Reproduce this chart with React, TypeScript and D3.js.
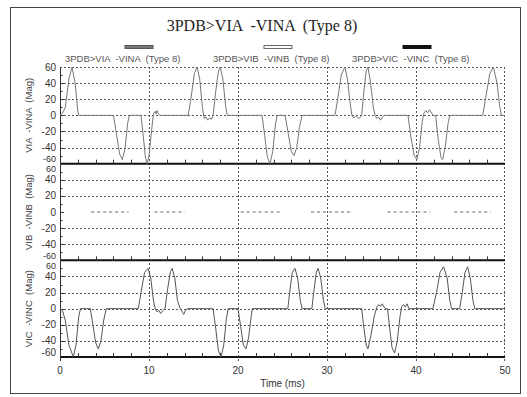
import { useEffect, useRef } from "react";
import * as d3 from "d3";

// Time (ms) / magnitude vertices
const viaVina: [number, number][] = [
  [0, 0], [0.3, 3], [0.6, 10], [1.0, 45], [1.35, 60], [1.7, 40], [2.0, 5], [2.1, 0],
  [6.0, 0], [6.3, -20], [6.7, -48], [7.0, -55], [7.3, -42], [7.6, -10], [7.8, 0],
  [9.1, 0], [9.3, -20], [9.6, -52], [9.8, -60], [10.0, -50], [10.3, -18], [10.5, 2], [10.7, 5], [10.8, 2], [10.9, 6], [11.0, 3], [11.2, 0],
  [14.4, 0], [14.7, 20], [15.1, 52], [15.4, 60], [15.7, 45], [16.0, 10], [16.2, -4], [16.4, -2], [16.6, -6], [16.8, -3], [17.0, -5], [17.2, 0],
  [17.5, 30], [17.8, 55], [18.0, 60], [18.3, 45], [18.6, 12], [18.8, 0],
  [22.7, 0], [23.0, -25], [23.3, -52], [23.6, -60], [23.9, -45], [24.2, -12], [24.4, 0],
  [25.3, 0], [25.6, -20], [26.0, -45], [26.3, -50], [26.6, -40], [26.9, -15], [27.2, 0],
  [30.9, 0], [31.2, 20], [31.6, 50], [32.0, 60], [32.3, 45], [32.6, 15], [32.8, 0], [33.0, -3], [33.3, -1], [33.6, -4], [33.9, 0],
  [34.1, 25], [34.4, 55], [34.6, 60], [34.9, 40], [35.2, 10], [35.4, 0], [35.6, -4], [35.8, -2], [36.0, -6], [36.2, -3], [36.4, 0],
  [39.1, 0], [39.4, -25], [39.8, -50], [40.1, -55], [40.4, -40], [40.7, -8], [40.9, 3], [41.1, 6], [41.3, 3], [41.5, 7], [41.7, 4], [41.9, 0],
  [42.2, 0], [42.5, -30], [42.8, -52], [43.0, -55], [43.3, -38], [43.6, -10], [43.8, 0],
  [47.5, 0], [47.8, 20], [48.3, 52], [48.7, 60], [49.1, 40], [49.4, 12], [49.6, 0], [50, 0],
];

// VINB trace only shows as short flat pieces at 0 (null = gap)
const vibVinb: [number, number | null][] = [
  [3.5, 0], [7.7, 0], [7.8, null],
  [10.6, 0], [14.0, 0], [14.1, null],
  [20.3, 0], [24.8, 0], [24.9, null],
  [28.2, 0], [32.6, 0], [32.7, null],
  [36.8, 0], [41.6, 0], [41.7, null],
  [44.3, 0], [48.4, 0],
];

const vicVinc: [number, number][] = [
  [0, 0], [0.3, -3], [0.6, -15], [1.0, -45], [1.5, -60], [1.8, -45], [2.1, -10], [2.3, 0],
  [3.4, 0], [3.7, -20], [4.0, -42], [4.3, -50], [4.6, -40], [4.9, -15], [5.2, 0],
  [8.8, 0], [9.1, 20], [9.5, 45], [9.9, 50], [10.2, 38], [10.5, 10], [10.7, 0], [10.9, -4], [11.1, -2], [11.3, -6], [11.5, -3], [11.8, 0],
  [12.1, 25], [12.4, 46], [12.6, 50], [12.9, 38], [13.2, 10], [13.5, 0], [13.7, -3], [13.9, -7], [14.1, -2], [14.3, 0],
  [17.2, 0], [17.5, -25], [17.8, -52], [18.1, -60], [18.4, -45], [18.7, -12], [18.9, 0],
  [20.0, 0], [20.3, -22], [20.6, -45], [20.9, -50], [21.2, -35], [21.5, -8], [21.6, 0],
  [25.6, 0], [25.8, 20], [26.1, 45], [26.4, 50], [26.7, 38], [27.0, 10], [27.2, 0],
  [28.3, 0], [28.5, 20], [28.8, 45], [29.0, 50], [29.3, 38], [29.6, 10], [29.8, 0],
  [33.9, 0], [34.1, -20], [34.4, -45], [34.6, -50], [34.9, -35], [35.3, -10], [35.6, 2], [35.8, 5], [36.0, 3], [36.2, 6], [36.4, 2], [36.6, 0],
  [36.8, 0], [37.0, -20], [37.3, -48], [37.6, -55], [37.9, -40], [38.2, -10], [38.4, 3], [38.6, 5], [38.8, 2], [39.0, 6], [39.2, 0],
  [41.9, 0], [42.3, 20], [42.7, 45], [43.1, 52], [43.5, 38], [43.8, 10], [44.0, 0],
  [44.9, 0], [45.2, 20], [45.5, 45], [45.8, 52], [46.1, 38], [46.4, 10], [46.6, 0], [50, 0],
];

const title = "3PDB>VIA  -VINA  (Type 8)";
const legendLabels = ["3PDB>VIA  -VINA  (Type 8)", "3PDB>VIB  -VINB  (Type 8)", "3PDB>VIC  -VINC  (Type 8)"];
const panelLabels = ["VIA  -VINA  (Mag)", "VIB  -VINB  (Mag)", "VIC  -VINC  (Mag)"];
const xTicks = [0, 10, 20, 30, 40, 50];
const yTicks = [60, 40, 20, 0, -20, -40, -60];

const W = 527, H = 397;
const margin = { top: 67, bottom: 40, left: 60, right: 22 };
const sans = "Arial, 'Liberation Sans', sans-serif";

function App() {
  const svgRef = useRef<SVGSVGElement>(null);

  useEffect(() => {
    const svg = d3.select(svgRef.current);
    svg.selectAll("*").remove();

    const plotBottom = H - margin.bottom;
    const panelH = (plotBottom - margin.top) / 3;

    const x = d3.scaleLinear().domain([0, 50]).range([margin.left, W - margin.right]);
    const yScales = [0, 1, 2].map(i =>
      d3.scaleLinear().domain([-60, 60]).range([margin.top + panelH * (i + 1), margin.top + panelH * i])
    );

    // outer frame
    svg.append("rect")
      .attr("x", 10.5).attr("y", 7.5).attr("width", 510).attr("height", 386)
      .attr("fill", "none").attr("stroke", "#444").attr("stroke-width", 1);

    // title
    svg.append("text")
      .attr("x", 262).attr("y", 31)
      .attr("text-anchor", "middle")
      .style("font-family", "'Liberation Serif', 'Times New Roman', serif")
      .style("font-size", "16px").style("white-space", "pre")
      .attr("fill", "#222")
      .text(title);

    // legend
    const legendX = [65, 213, 352];
    const swatchX = [125, 264, 403];
    const swatchStyle = [
      { fill: "#777", stroke: "#555" },
      { fill: "#fff", stroke: "#666" },
      { fill: "#111", stroke: "#111" },
    ];
    legendLabels.forEach((lab, i) => {
      svg.append("rect")
        .attr("x", swatchX[i]).attr("y", 45.5).attr("width", 28).attr("height", 3)
        .attr("fill", swatchStyle[i].fill).attr("stroke", swatchStyle[i].stroke).attr("stroke-width", 1);
      svg.append("text")
        .attr("x", legendX[i]).attr("y", 62)
        .style("font-family", sans).style("font-size", "9.5px").style("white-space", "pre")
        .attr("fill", "#555")
        .text(lab);
    });

    // gridlines (the hollow VINB trace hides the 0 line of the middle panel)
    const grid = svg.append("g").attr("stroke", "#555").attr("stroke-width", 1).attr("stroke-dasharray", "2,2");
    yScales.forEach((y, i) => {
      [40, 20, 0, -20, -40].forEach(v => {
        if (i === 1 && v === 0) return;
        grid.append("line")
          .attr("x1", margin.left).attr("x2", W - margin.right)
          .attr("y1", Math.round(y(v)) + 0.5).attr("y2", Math.round(y(v)) + 0.5);
      });
    });
    [10, 20, 30, 40].forEach(t => {
      grid.append("line")
        .attr("x1", Math.round(x(t)) + 0.5).attr("x2", Math.round(x(t)) + 0.5)
        .attr("y1", margin.top).attr("y2", plotBottom + 4);
    });
    // top and right edges dotted
    grid.append("line").attr("x1", margin.left).attr("x2", W - margin.right)
      .attr("y1", margin.top + 0.5).attr("y2", margin.top + 0.5);
    grid.append("line").attr("x1", W - margin.right - 0.5).attr("x2", W - margin.right - 0.5)
      .attr("y1", margin.top).attr("y2", plotBottom + 4);

    // panel baselines with minor ticks
    yScales.forEach(y => {
      const yb = y(-60);
      svg.append("line")
        .attr("x1", margin.left).attr("x2", W - margin.right)
        .attr("y1", yb).attr("y2", yb)
        .attr("stroke", "#111").attr("stroke-width", 2);
      d3.range(2, 50, 2).forEach(t => {
        if (t % 10 === 0) return;
        svg.append("line")
          .attr("x1", Math.round(x(t)) + 0.5).attr("x2", Math.round(x(t)) + 0.5)
          .attr("y1", yb).attr("y2", yb - 4)
          .attr("stroke", "#333").attr("stroke-width", 1);
      });
    });

    // left axis
    svg.append("line")
      .attr("x1", margin.left + 0.5).attr("x2", margin.left + 0.5)
      .attr("y1", margin.top).attr("y2", plotBottom + 4)
      .attr("stroke", "#333").attr("stroke-width", 1);

    yScales.forEach((y, i) => {
      d3.range(-50, 60, 10).forEach(v => {
        svg.append("line")
          .attr("x1", margin.left).attr("x2", margin.left + (v % 20 === 0 ? 4 : 2.5))
          .attr("y1", Math.round(y(v)) + 0.5).attr("y2", Math.round(y(v)) + 0.5)
          .attr("stroke", "#333").attr("stroke-width", 1);
      });
      yTicks.forEach(v => {
        let dy = 3.5;
        if (v === 60) dy = i === 0 ? 3.5 : 8.5;
        if (v === -60) dy = -1.5;
        svg.append("text")
          .attr("x", margin.left - 4).attr("y", y(v) + dy)
          .attr("text-anchor", "end")
          .style("font-family", sans).style("font-size", (v === 60 && i > 0) || (v === -60 && i < 2) ? "9px" : "10px")
          .attr("fill", "#333")
          .text(v);
      });
      const cy = (y(60) + y(-60)) / 2;
      svg.append("text")
        .attr("transform", `translate(32, ${cy}) rotate(-90)`)
        .attr("text-anchor", "middle")
        .style("font-family", sans).style("font-size", "9.5px").style("white-space", "pre")
        .attr("fill", "#444")
        .text(panelLabels[i]);
    });

    // x tick labels and title
    xTicks.forEach(t => {
      svg.append("text")
        .attr("x", x(t)).attr("y", plotBottom + 17)
        .attr("text-anchor", "middle")
        .style("font-family", sans).style("font-size", "10px")
        .attr("fill", "#333")
        .text(t);
    });
    svg.append("text")
      .attr("x", x(25)).attr("y", plotBottom + 30)
      .attr("text-anchor", "middle")
      .style("font-family", sans).style("font-size", "10px")
      .attr("fill", "#333")
      .text("Time (ms)");

    // traces
    const lineFor = (y: d3.ScaleLinear<number, number>) =>
      d3.line<[number, number | null]>()
        .defined(d => d[1] !== null)
        .x(d => x(d[0]))
        .y(d => y(d[1] as number));

    svg.append("path")
      .attr("d", lineFor(yScales[0])(viaVina))
      .attr("fill", "none").attr("stroke", "#777").attr("stroke-width", 1);
    svg.append("path")
      .attr("d", lineFor(yScales[1])(vibVinb))
      .attr("fill", "none").attr("stroke", "#666").attr("stroke-width", 1)
      .attr("stroke-dasharray", "3,3");
    svg.append("path")
      .attr("d", lineFor(yScales[2])(vicVinc))
      .attr("fill", "none").attr("stroke", "#555").attr("stroke-width", 1);
  }, []);

  return (
    <svg ref={svgRef} width={W} height={H}
      style={{ position: "absolute", left: 0, top: 0, background: "#fff" }} />
  );
}

export default App;
